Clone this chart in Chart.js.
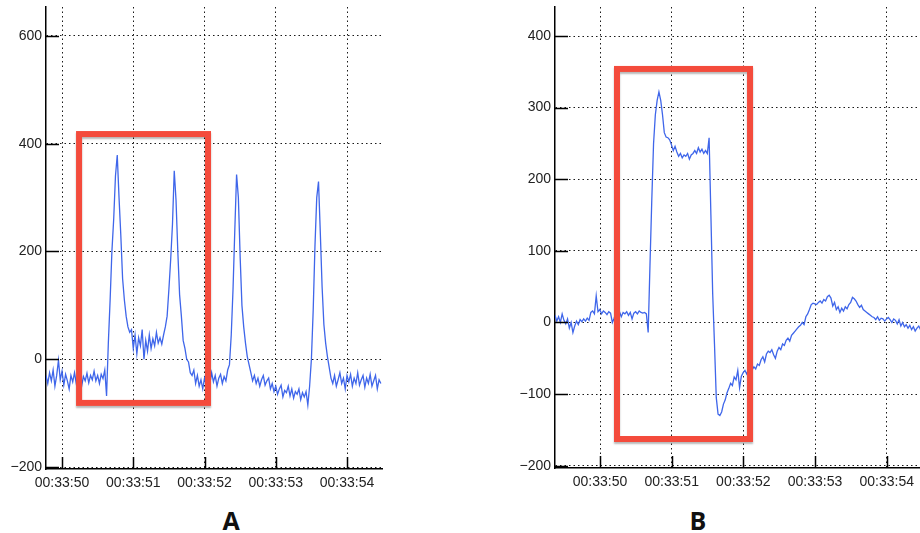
<!DOCTYPE html>
<html><head><meta charset="utf-8">
<script src="https://cdn.jsdelivr.net/npm/chart.js@4/dist/chart.umd.min.js"></script>
<style>
html,body{margin:0;padding:0;background:#fff;overflow:hidden;width:920px;height:533px;position:relative;}
#wrapA{position:absolute;left:0;top:0;width:400px;height:500px;}
#wrapB{position:absolute;left:500px;top:0;width:425px;height:500px;}
.lbl{position:absolute;width:40px;text-align:center;font-family:'Open Sans',sans-serif;font-weight:700;font-size:25px;color:#111;line-height:1;}
</style></head><body>
<div id="wrapA"><canvas id="cA" width="400" height="500"></canvas></div>
<div id="wrapB"><canvas id="cB" width="425" height="500"></canvas></div>
<div class="lbl" style="left:211px;top:508px">A</div>
<div class="lbl" style="left:678px;top:508px">B</div>
<script>
// ---- Panel A ----
const panelA = 'A';
const startA = 49.775;      // first sample time (s past 00:33:00)
const stepA = 0.025;        // sample period (s)
const valuesA = [
-30,-45,-25,-40,-20,-50,-30,-2,-38,-22,
-48,-28,-40,-55,-30,-42,-25,-45,-35,-28,
-50,-32,-40,-26,-44,-30,-38,-22,-40,-30,
-45,-28,-36,-20,-68,30,110,200,260,340,
379,300,230,150,110,80,60,50,55,20,
45,10,40,25,55,0,35,15,45,20,
38,25,50,30,40,28,45,60,80,130,
185,250,350,295,200,120,80,35,20,0,
-5,-25,-30,-20,-45,-30,-50,-38,-55,-35,
-48,-30,-45,-25,-42,-30,-50,-35,-28,-45,
-32,-40,-20,-10,45,130,240,343,300,190,
100,60,30,5,-10,-25,-40,-30,-45,-35,
-50,-38,-30,-48,-40,-35,-55,-45,-60,-50,
-65,-55,-48,-70,-58,-62,-50,-68,-55,-72,
-60,-65,-55,-75,-62,-70,-60,-85,-50,0,
90,210,300,330,235,135,65,30,5,-15,
-35,-45,-30,-50,-38,-25,-45,-35,-55,-30,
-42,-28,-50,-35,-45,-25,-48,-38,-30,-52,
-35,-45,-28,-50,-40,-30,-55,-38,-45
];
const xRangeA = [49.775, 54.491];
const yRangeA = [-203.7, 653.8];
const yTicksStepA = 200;
const boxA_t = [50.239, 52.049];
const boxA_v = [-81, 418];

// ---- Panel B ----
const panelB = 'B';
const startB = 49.372;
const stepB = 0.025;
const valuesB = [
10,2,8,0,12,3,-2,5,-8,0,
-14,-5,2,-3,4,1,5,2,6,3,
14,16,12,37,15,18,12,16,14,11,
15,13,0,6,14,12,15,8,14,12,
15,10,14,5,13,15,12,16,14,13,
14,12,-14,80,170,250,290,310,322,310,
290,265,259,258,255,248,240,246,238,232,
236,230,234,232,236,228,234,236,240,236,
244,238,242,236,240,236,258,150,40,-30,
-105,-128,-130,-125,-114,-108,-98,-92,-85,-88,
-76,-80,-67,-91,-75,-70,-67,-72,-66,-64,
-66,-62,-65,-58,-60,-52,-48,-55,-44,-40,
-42,-38,-45,-50,-40,-35,-38,-30,-32,-25,
-22,-26,-18,-15,-12,-9,-6,-4,0,-3,
8,12,18,25,27,26,25,28,30,27,
32,30,36,38,34,23,28,18,22,14,
20,16,22,19,25,28,35,33,30,25,
21,24,18,16,14,12,10,8,7,4,
8,3,6,5,2,5,7,4,0,5,
3,-2,4,-5,0,-6,-3,-8,-4,-10,
-6,-12,-8,-5,-10,-8,-12
];
const xRangeB = [49.372, 54.534];
const yRangeB = [-203.2, 440.5];
const yTicksStepB = 100;
const boxB_t = [50.237, 52.093];
const boxB_v = [-162.7, 354];

const timePrefix = '00:33:';

const overlay = {
  id: 'overlay',
  afterDatasetsDraw(chart, args, o) {
    const ctx = chart.ctx, ca = chart.chartArea;
    const xs = chart.scales.x, ys = chart.scales.y;
    ctx.save();
    ctx.strokeStyle = '#000'; ctx.lineWidth = 1.5;
    ys.ticks.forEach(t => { const p = Math.round(ys.getPixelForValue(t.value)) + 0.5;
      ctx.beginPath(); ctx.moveTo(ca.left, p); ctx.lineTo(ca.left + 13, p); ctx.stroke(); });
    xs.ticks.forEach(t => { const p = Math.round(xs.getPixelForValue(t.value)) + 0.5;
      ctx.beginPath(); ctx.moveTo(p, ca.bottom); ctx.lineTo(p, ca.bottom - 12); ctx.stroke(); });
    const x0 = xs.getPixelForValue(o.bt[0]), x1 = xs.getPixelForValue(o.bt[1]);
    const y0 = ys.getPixelForValue(o.bv[1]), y1 = ys.getPixelForValue(o.bv[0]);
    ctx.shadowColor = 'rgba(0,0,0,0.28)'; ctx.shadowOffsetY = 2; ctx.shadowOffsetX = 0; ctx.shadowBlur = 2;
    ctx.strokeStyle = '#F44B3C'; ctx.lineWidth = 6;
    ctx.strokeRect(x0, y0, x1 - x0, y1 - y0);
    ctx.restore();
  }
};

function build(id, start, step, vals, xr, yr, ystep, bt, bv, yw, xh, padRight) {
  const pts = vals.map((v, i) => ({x: start + i * step, y: v}));
  const tickFont = {family: "'Liberation Sans', Arial, sans-serif", size: 14};
  return new Chart(document.getElementById(id), {
    type: 'line',
    data: {datasets: [{data: pts, borderColor: '#3F66EA', borderWidth: 1.3, pointRadius: 0, tension: 0, fill: false}]},
    plugins: [overlay],
    options: {
      responsive: false, animation: false, devicePixelRatio: 1,
      layout: {padding: {top: 7, right: padRight, left: 0, bottom: 0}},
      plugins: {legend: {display: false}, tooltip: {enabled: false}, overlay: {bt: bt, bv: bv}},
      scales: {
        x: {type: 'linear', min: xr[0], max: xr[1],
            grid: {color: 'rgba(0,0,0,0.9)', lineWidth: 1, drawTicks: false},
            border: {display: true, color: '#000', width: 1.5, dash: [1.5, 3]},
            ticks: {stepSize: 1, includeBounds: false, autoSkip: false, maxRotation: 0, padding: 6,
                    color: '#222', font: tickFont,
                    callback: v => timePrefix + String(Math.round(v)).padStart(2, '0')},
            afterFit: s => { s.height = xh; s.paddingLeft = 0; s.paddingRight = 0; }},
        y: {type: 'linear', min: yr[0], max: yr[1],
            grid: {color: 'rgba(0,0,0,0.9)', lineWidth: 1, drawTicks: false},
            border: {display: true, color: '#000', width: 1.5, dash: [1.5, 3]},
            ticks: {stepSize: ystep, includeBounds: false, padding: 4, color: '#222', font: tickFont,
                    callback: v => v < 0 ? '\u2212' + Math.abs(v) : String(v)},
            afterFit: s => { s.width = yw; s.paddingTop = 0; s.paddingBottom = 0; }}
      }
    }
  });
}

build('cA', startA, stepA, valuesA, xRangeA, yRangeA, yTicksStepA, boxA_t, boxA_v, 46, 31, 18);
build('cB', startB, stepB, valuesB, xRangeB, yRangeB, yTicksStepB, boxB_t, boxB_v, 55, 32, 0);
</script>
</body></html>
